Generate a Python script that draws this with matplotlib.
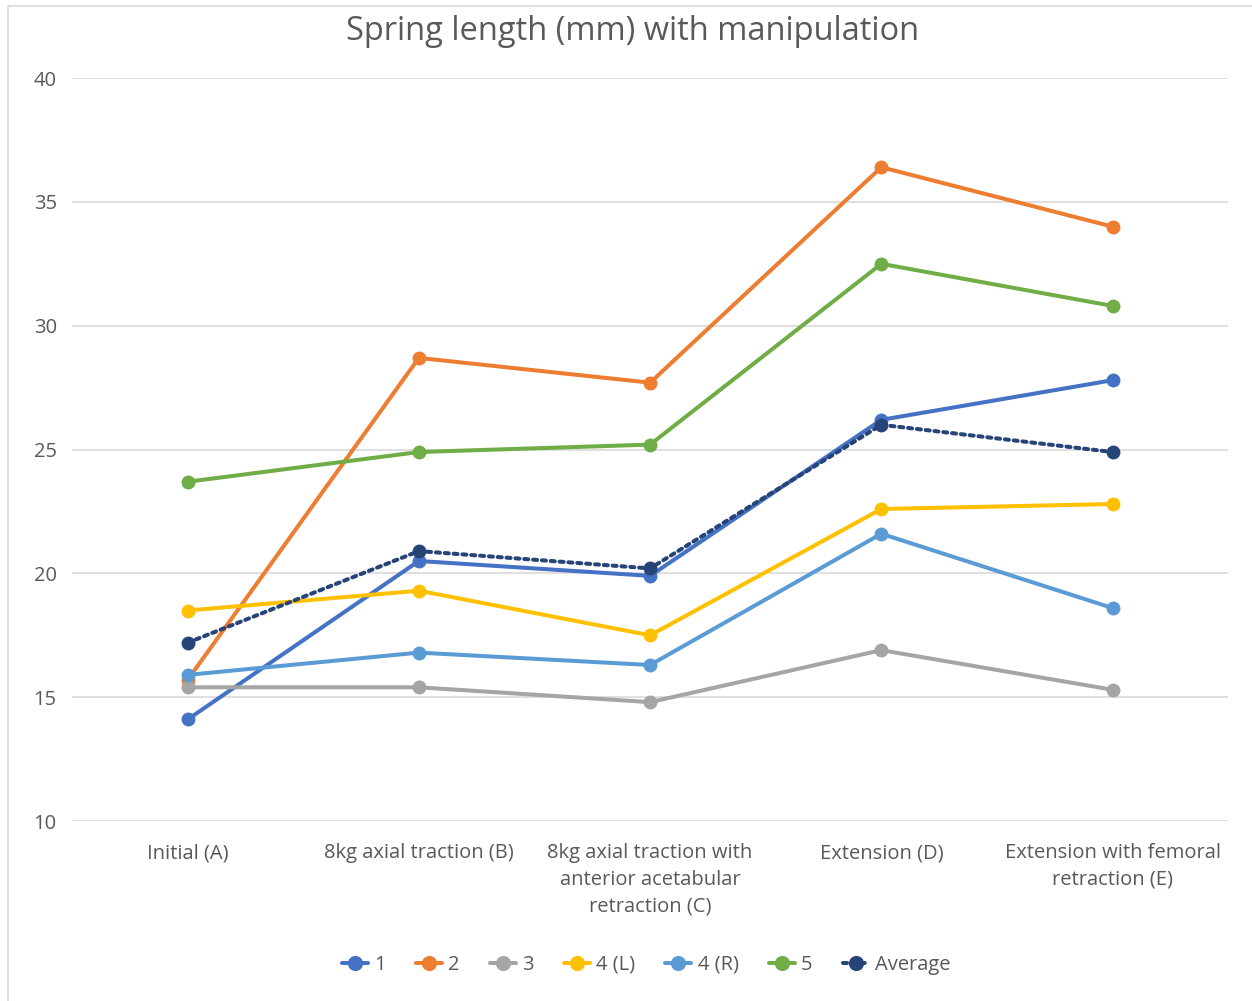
import matplotlib.pyplot as plt
from matplotlib.patches import Rectangle

plt.rcParams['font.family'] = ['Open Sans', 'DejaVu Sans']

# Data
categories = ['Initial (A)', '8kg axial traction (B)',
              '8kg axial traction with\nanterior acetabular\nretraction (C)',
              'Extension (D)', 'Extension with femoral\nretraction (E)']
s1 = [14.1, 20.5, 19.9, 26.2, 27.8]
s2 = [15.7, 28.7, 27.7, 36.4, 34.0]
s3 = [15.4, 15.4, 14.8, 16.9, 15.3]
s4L = [18.5, 19.3, 17.5, 22.6, 22.8]
s4R = [15.9, 16.8, 16.3, 21.6, 18.6]
s5 = [23.7, 24.9, 25.2, 32.5, 30.8]
avg = [17.2, 20.9, 20.2, 26.0, 24.9]

series = [('1', s1, '#4472C4'), ('2', s2, '#ED7D31'), ('3', s3, '#A5A5A5'),
          ('4 (L)', s4L, '#FFC000'), ('4 (R)', s4R, '#5B9BD5'),
          ('5', s5, '#70AD47')]

fig = plt.figure(figsize=(12.52, 10.01), dpi=100)
ax = fig.add_axes([0.0575, 0.1798, 0.9235, 0.7422])

x = range(len(categories))
for name, vals, col in series:
    ax.plot(x, vals, color=col, lw=2.9, marker='o', ms=9, label=name,
            solid_capstyle='round')
ax.plot(x, avg, color='#264478', lw=2.9, ls=(0, (1, 1.2)), marker='o', ms=9,
        label='Average', dash_capstyle='round')

ax.set_xlim(-0.5, 4.5)
ax.set_ylim(10, 40)
ax.set_yticks(range(10, 41, 5))
ax.set_xticks(list(x))
ax.set_xticklabels(categories, fontsize=14.5, color='#595959', linespacing=1.45)
ax.tick_params(axis='y', labelsize=14.5, labelcolor='#595959', length=0, pad=11)
ax.tick_params(axis='x', length=0, pad=16)
ax.grid(axis='y', color='#D9D9D9', lw=1.2)
ax.set_axisbelow(True)
for sp in ax.spines.values():
    sp.set_visible(False)

fig.text(0.505, 0.969, 'Spring length (mm) with manipulation', ha='center',
         va='center', fontsize=23.5, color='#595959')

leg = fig.legend(loc='center', bbox_to_anchor=(0.516, 0.036), ncol=7,
                 frameon=False, fontsize=14.5, handlelength=1.3,
                 handletextpad=0.3, columnspacing=1.5, markerscale=1.1)
for t in leg.get_texts():
    t.set_color('#595959')

fig.patches.append(Rectangle((0.0065, -0.01), 1.0, 1.004, transform=fig.transFigure,
                             fill=False, edgecolor='#D9D9D9', lw=1.2))

fig.savefig('out.png', dpi=100)
